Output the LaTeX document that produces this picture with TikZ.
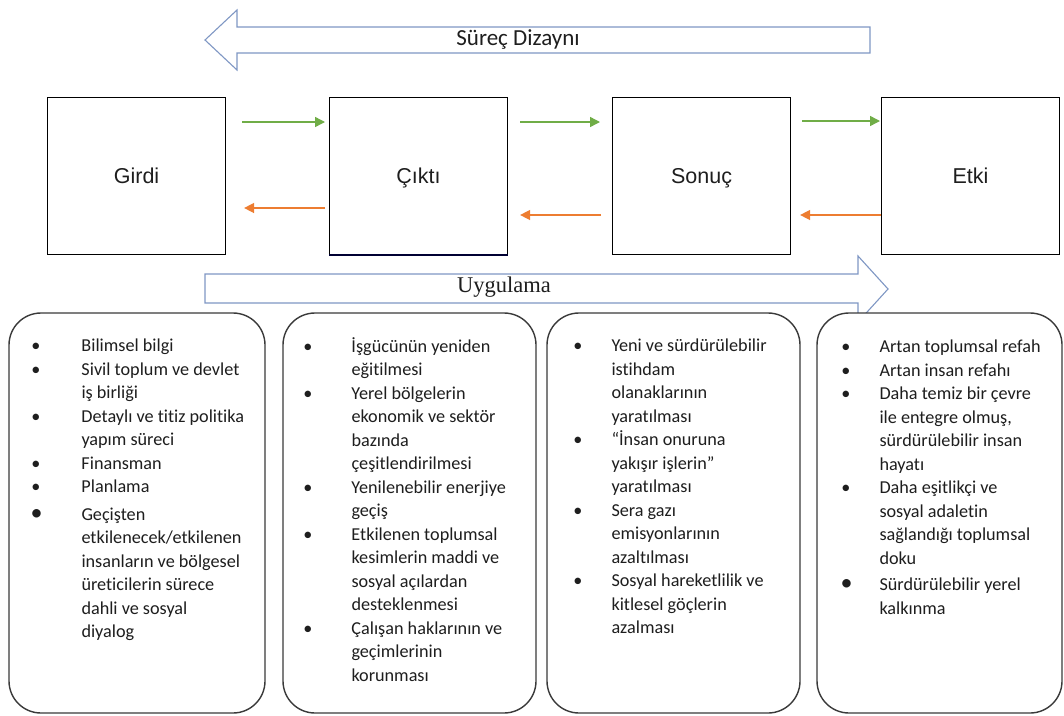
\documentclass[tikz,border=0pt]{standalone}
\usepackage{fontspec}
\setmainfont{Carlito}[RawFeature={-liga;-dlig;-clig}]
\newfontfamily\labfont{Liberation Sans}
\newfontfamily\serfont{Liberation Serif}
\usetikzlibrary{arrows.meta}
\definecolor{arrowblue}{HTML}{7F97C4}
\definecolor{flowgreen}{HTML}{70AD47}
\definecolor{floworange}{HTML}{ED7D31}
\definecolor{roundgray}{HTML}{3A3A3A}
\definecolor{textgray}{HTML}{1E1E1E}
\newcommand{\bul}[1]{\llap{\textbullet\hspace{#1pt}}}
\newcommand{\bigbul}[1]{\llap{{\fontsize{24}{24}\selectfont\textbullet}\hspace{#1pt}}}
\begin{document}
\begin{tikzpicture}[x=1pt,y=-1pt,
  stagebox/.style={draw=black,line width=1.1pt,minimum width=178pt,minimum height=157pt,
    inner sep=0pt,text height=15pt,text depth=0pt,anchor=north west,
    font=\labfont\fontsize{21.5}{25}\selectfont,text=textgray},
  bigarrow/.style={draw=arrowblue,line width=1.1pt,fill=white},
  greenflow/.style={draw=flowgreen,line width=1.4pt,-{Triangle[length=10pt,width=10pt]}},
  orangeflow/.style={draw=floworange,line width=1.4pt,-{Triangle[length=10pt,width=10pt]}},
  listbox/.style={draw=roundgray,line width=1.4pt,rounded corners=32pt,fill=white,inner sep=0pt},
  listtext/.style={anchor=north west,align=left,inner sep=0pt,text=textgray,
    font=\fontsize{18.2}{23.5}\selectfont}]
\useasboundingbox (0,0) rectangle (1064,715);

% top arrow
\draw[bigarrow] (870,27) -- (237,27) -- (237,10) -- (205,40) -- (237,70) -- (237,53) -- (870,53) -- cycle;
\node[font=\fontsize{23}{26}\selectfont,text=textgray] (surec) at (518,40) {Süreç Dizaynı};

% stage boxes
\node[stagebox] (girdi) at (47,97) {Girdi};
\node[stagebox] (cikti) at (329,97) {Çıktı};
\node[stagebox] (sonuc) at (612,97) {Sonuç};
\node[stagebox] (etki) at (881,97) {Etki};
\draw[draw=black!80!blue,line width=1.6pt] (cikti.south west) -- (cikti.south east);

% flows
\draw[greenflow] ([xshift=16pt,yshift=-25pt]girdi.north east) -- ([xshift=-4pt,yshift=-25pt]cikti.north west);
\draw[greenflow] ([xshift=12pt,yshift=-25pt]cikti.north east) -- ([xshift=-12pt,yshift=-25pt]sonuc.north west);
\draw[greenflow] ([xshift=11pt,yshift=-24pt]sonuc.north east) -- ([xshift=-1pt,yshift=-24pt]etki.north west);
\draw[orangeflow] ([xshift=-4pt,yshift=-111pt]cikti.north west) -- ([xshift=18pt,yshift=-111pt]girdi.north east);
\draw[orangeflow] ([xshift=-11pt,yshift=-118pt]sonuc.north west) -- ([xshift=12pt,yshift=-118pt]cikti.north east);
\draw[orangeflow] ([yshift=-118pt]etki.north west) -- ([xshift=9pt,yshift=-118pt]sonuc.north east);

% bottom arrow
\draw[bigarrow] (205,274) -- (858,274) -- (858,256) -- (888,289) -- (858,322) -- (858,303) -- (205,303) -- cycle;
\node[font=\serfont\fontsize{22.5}{26}\selectfont,text=textgray] (uyg) at (504,287) {Uygulama};

% list boxes
\node[listbox,minimum width=256pt,minimum height=400pt] (list1) at (137,513) {};
\node[listbox,minimum width=253pt,minimum height=400pt] (list2) at (409.5,513) {};
\node[listbox,minimum width=253pt,minimum height=400pt] (list3) at (673.5,513) {};
\node[listbox,minimum width=245pt,minimum height=400pt] (list4) at (939.5,513) {};

\node[listtext] (text1) at ([xshift=73pt,yshift=-25pt]list1.north west) {\rule{0pt}{14pt}%
\bul{41}Bilimsel bilgi\\
\bul{41}Sivil toplum ve devlet\\
iş birliği\\
\bul{41}Detaylı ve titiz politika\\
yapım süreci\\
\bul{41}Finansman\\
\bul{41}Planlama\\[4pt]
\bigbul{39}Geçişten\\
etkilenecek/etkilenen\\
insanların ve bölgesel\\
üreticilerin sürece\\
dahli ve sosyal\\
diyalog};

\node[listtext] (text2) at ([xshift=69pt,yshift=-25pt]list2.north west) {\rule{0pt}{14pt}%
\bul{39}İşgücünün yeniden\\
eğitilmesi\\
\bul{39}Yerel bölgelerin\\
ekonomik ve sektör\\
bazında\\
çeşitlendirilmesi\\
\bul{39}Yenilenebilir enerjiye\\
geçiş\\
\bul{39}Etkilenen toplumsal\\
kesimlerin maddi ve\\
sosyal açılardan\\
desteklenmesi\\
\bul{39}Çalışan haklarının ve\\
geçimlerinin\\
korunması};

\node[listtext] (text3) at ([xshift=65pt,yshift=-25pt]list3.north west) {\rule{0pt}{14pt}%
\bul{29}Yeni ve sürdürülebilir\\
istihdam\\
olanaklarının\\
yaratılması\\
\bul{29}“İnsan onuruna\\
yakışır işlerin”\\
yaratılması\\
\bul{29}Sera gazı\\
emisyonlarının\\
azaltılması\\
\bul{29}Sosyal hareketlilik ve\\
kitlesel göçlerin\\
azalması};

\node[listtext] (text4) at ([xshift=63pt,yshift=-26pt]list4.north west) {\rule{0pt}{14pt}%
\bul{29}Artan toplumsal refah\\
\bul{29}Artan insan refahı\\
\bul{29}Daha temiz bir çevre\\
ile entegre olmuş,\\
sürdürülebilir insan\\
hayatı\\
\bul{29}Daha eşitlikçi ve\\
sosyal adaletin\\
sağlandığı toplumsal\\
doku\\[3pt]
\bigbul{27}Sürdürülebilir yerel\\
kalkınma};
\end{tikzpicture}
\end{document}
